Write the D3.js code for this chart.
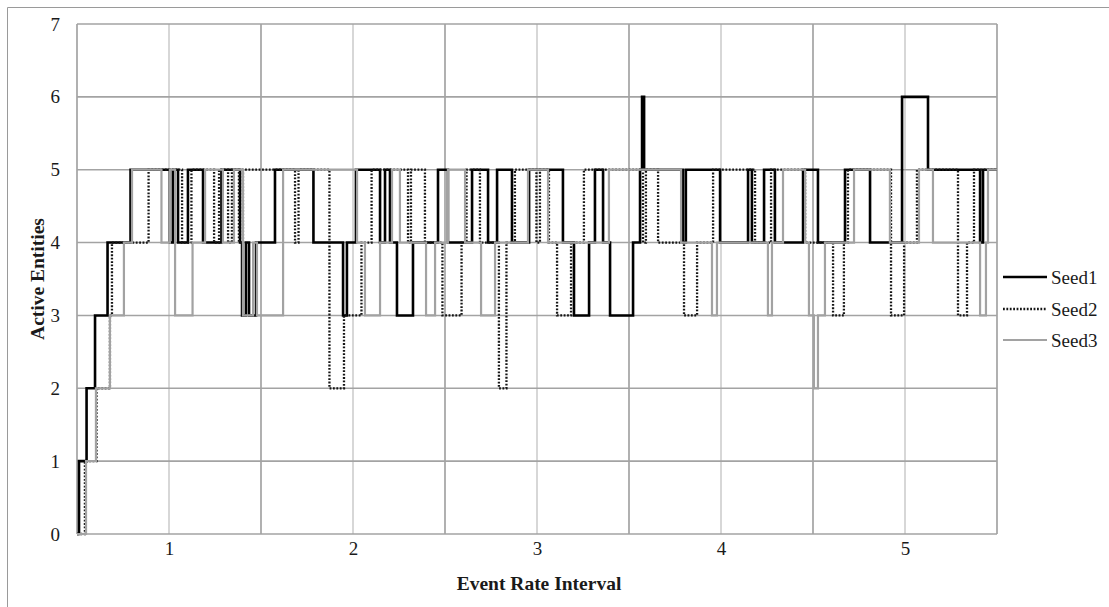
<!DOCTYPE html>
<html>
<head>
<meta charset="utf-8">
<script src="https://cdn.jsdelivr.net/npm/d3@7"></script>
<style>
  html, body { margin: 0; padding: 0; background: #fff; }
  svg { display: block; }
  text { font-family: "Liberation Serif", "Times New Roman", serif; fill: #1a1a1a; }
</style>
</head>
<body>
<svg id="chart" width="1109" height="607"></svg>
<script>
// Step changes per seed: [interval position, active entity count from there on]
const seed1 = [
  [0.5,0],[0.511,1],[0.552,2],[0.598,3],[0.666,4],[0.791,5],[1.005,4],[1.022,5],[1.049,4],[1.103,5],
  [1.185,4],[1.285,5],[1.386,4],[1.397,3],[1.418,4],[1.435,3],[1.473,4],[1.576,5],[1.785,4],[1.946,3],
  [1.967,4],[2.016,5],[2.147,4],[2.174,5],[2.201,4],[2.239,3],[2.326,4],[2.462,5],[2.516,4],[2.647,5],
  [2.734,4],[2.783,5],[2.864,4],[2.957,5],[3.141,4],[3.201,3],[3.283,4],[3.315,5],[3.359,4],[3.397,3],
  [3.522,4],[3.560,5],[3.571,6],[3.582,5],[3.793,4],[3.809,5],[3.995,4],[4.147,5],[4.168,4],[4.234,5],
  [4.293,4],[4.446,5],[4.527,4],[4.674,5],[4.810,4],[4.984,6],[5.125,5],[5.408,4],[5.424,5]
];
const seed2 = [
  [0.5,0],[0.543,1],[0.606,2],[0.679,3],[0.690,4],[0.889,5],[1.071,4],[1.122,5],[1.245,4],[1.272,5],
  [1.321,4],[1.342,5],[1.380,4],[1.402,5],[1.685,4],[1.704,5],[1.872,2],[1.951,3],[2.046,4],[2.101,5],
  [2.299,4],[2.315,5],[2.391,4],[2.486,3],[2.590,4],[2.617,5],[2.690,4],[2.793,2],[2.834,4],[2.880,5],
  [2.997,4],[3.016,5],[3.065,4],[3.109,3],[3.185,4],[3.255,5],[3.576,4],[3.592,5],[3.658,4],[3.799,3],
  [3.870,4],[3.957,5],[4.185,4],[4.272,5],[4.457,4],[4.609,3],[4.668,4],[4.690,5],[4.924,3],[4.995,4],
  [5.065,5],[5.288,3],[5.337,4],[5.375,5]
];
const seed3 = [
  [0.5,0],[0.549,1],[0.603,2],[0.679,3],[0.755,4],[0.799,5],[0.959,4],[1.005,5],[1.033,3],[1.128,4],
  [1.196,5],[1.293,4],[1.353,5],[1.402,3],[1.457,4],[1.478,3],[1.620,5],[2.022,4],[2.065,3],[2.147,4],
  [2.212,5],[2.255,4],[2.397,3],[2.446,4],[2.516,5],[2.609,4],[2.696,3],[2.772,4],[2.951,5],[3.060,4],
  [3.391,5],[3.783,4],[3.951,3],[3.978,4],[4.255,3],[4.277,4],[4.337,5],[4.457,4],[4.478,3],[4.505,2],
  [4.527,3],[4.565,4],[4.723,5],[4.918,4],[5.076,5],[5.152,4],[5.408,3],[5.440,4],[5.451,5]
];

const seriesNames = ["Seed1", "Seed2", "Seed3"];
const yTicks = [0, 1, 2, 3, 4, 5, 6, 7];
const xTickLabels = [1, 2, 3, 4, 5];
const xDomain = [0.5, 5.5];
const yDomain = [0, 7];

const svg = d3.select("#chart");
const W = 1109, H = 607;
const plot = { left: 77, right: 997, top: 24, bottom: 534 };

const x = d3.scaleLinear().domain(xDomain).range([plot.left, plot.right]);
const y = d3.scaleLinear().domain(yDomain).range([plot.bottom, plot.top]);

// chart-area frame (top and left edges)
svg.append("path")
  .attr("d", `M7.5,${H} V7.5 H${W}`)
  .attr("fill", "none").attr("stroke", "#9a9a9a").attr("stroke-width", 1);

// vertical gridlines: category boundaries (darker) and centres (lighter)
const vLines = d3.range(xDomain[0], xDomain[1] + 0.001, 0.5);
svg.append("g").selectAll("line").data(vLines).join("line")
  .attr("x1", d => x(d)).attr("x2", d => x(d))
  .attr("y1", plot.top).attr("y2", plot.bottom)
  .attr("stroke", d => Number.isInteger(d) ? "#cdcdcd" : "#9d9d9d")
  .attr("stroke-width", 1.6);

// horizontal gridlines
svg.append("g").selectAll("line").data(yTicks).join("line")
  .attr("x1", plot.left).attr("x2", plot.right)
  .attr("y1", d => y(d)).attr("y2", d => y(d))
  .attr("stroke", "#a3a3a3").attr("stroke-width", 1.6);

// y axis labels
const yAxis = d3.axisLeft(y).tickValues(yTicks).tickSize(0).tickPadding(17).tickFormat(d3.format("d"));
svg.append("g").attr("transform", `translate(${plot.left},0)`).call(yAxis)
  .call(g => g.select(".domain").remove())
  .call(g => g.selectAll("text").style("font-size", "19px").attr("fill", "#1a1a1a")
    .style("font-family", "'Liberation Serif', serif"));

// x axis labels
const xAxis = d3.axisBottom(x).tickValues(xTickLabels).tickSize(0).tickPadding(8).tickFormat(d3.format("d"));
svg.append("g").attr("transform", `translate(0,${plot.bottom})`).call(xAxis)
  .call(g => g.select(".domain").remove())
  .call(g => g.selectAll("text").style("font-size", "19px").attr("fill", "#1a1a1a")
    .style("font-family", "'Liberation Serif', serif"));

// axis titles
svg.append("text")
  .attr("x", (plot.left + plot.right) / 2 + 2).attr("y", 590)
  .attr("text-anchor", "middle").style("font-size", "19.5px").style("font-weight", "bold")
  .text("Event Rate Interval");
svg.append("text")
  .attr("transform", `translate(44,${(plot.top + plot.bottom) / 2}) rotate(-90)`)
  .attr("text-anchor", "middle").style("font-size", "19.5px").style("font-weight", "bold")
  .text("Active Entities");

// series
const styles = [
  { stroke: "#000000", width: 2.6, dash: null },
  { stroke: "#151515", width: 2.3, dash: "1.8 1.6" },
  { stroke: "#a2a2a2", width: 2.2, dash: null }
];
const line = d3.line().x(d => x(d[0])).y(d => y(d[1])).curve(d3.curveStepAfter);
const seriesData = [seed1, seed2, seed3];
const g = svg.append("g");
seriesData.forEach((s, i) => {
  const pts = s.concat([[xDomain[1], s[s.length - 1][1]]]);
  g.append("path").datum(pts)
    .attr("d", line)
    .attr("fill", "none")
    .attr("stroke", styles[i].stroke)
    .attr("stroke-width", styles[i].width)
    .attr("stroke-linejoin", "miter")
    .attr("stroke-dasharray", styles[i].dash);
});

// legend
const legendY = [277, 309, 340];
const lg = svg.append("g");
seriesNames.forEach((name, i) => {
  lg.append("line")
    .attr("x1", 1003).attr("x2", 1047)
    .attr("y1", legendY[i]).attr("y2", legendY[i])
    .attr("stroke", styles[i].stroke).attr("stroke-width", styles[i].width)
    .attr("stroke-dasharray", styles[i].dash);
  lg.append("text")
    .attr("x", 1051).attr("y", legendY[i]).attr("dy", "0.35em")
    .style("font-size", "19px")
    .text(name);
});
</script>
</body>
</html>
